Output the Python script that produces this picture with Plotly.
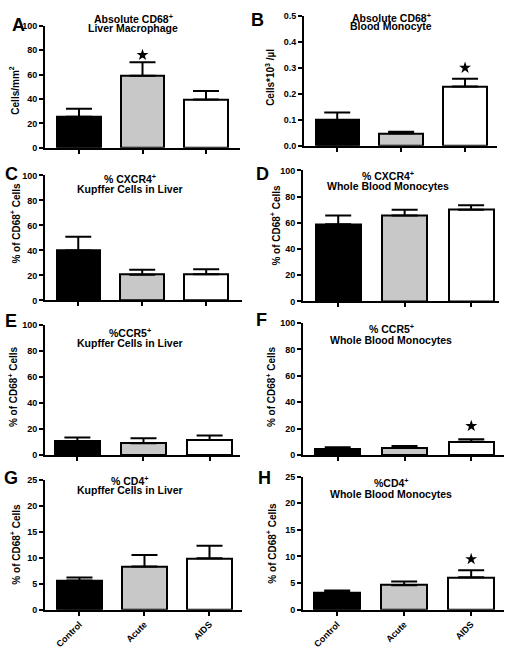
import plotly.graph_objects as go

W, H = 512, 655

categories = ["Control", "Acute", "AIDS"]

a_mean = [25.5, 59, 39.5]
a_sem = [6.5, 11, 7]
b_mean = [0.099, 0.048, 0.228]
b_sem = [0.029, 0.006, 0.03]
c_mean = [40, 20.5, 21]
c_sem = [11, 4, 4]
d_mean = [59, 65.5, 70]
d_sem = [6.5, 4.5, 3.5]
e_mean = [10.5, 9, 11.5]
e_sem = [3, 4, 3.5]
f_mean = [4.5, 5.5, 10]
f_sem = [1.3, 1.3, 2]
g_mean = [5.6, 8.3, 9.9]
g_sem = [0.6, 2.2, 2.4]
h_mean = [3.2, 4.6, 6.1]
h_sem = [0.4, 0.7, 1.3]

# significance stars: (category index, y value)
a_star = (1, 76)
b_star = (2, 0.30)
f_star = (2, 22)
h_star = (2, 9.5)

title_lines = {
    "A": ["Absolute CD68<sup>+</sup>", "Liver Macrophage"],
    "B": ["Absolute CD68<sup>+</sup>", "Blood Monocyte"],
    "C": ["% CXCR4<sup>+</sup>", "Kupffer Cells in Liver"],
    "D": ["% CXCR4<sup>+</sup>", "Whole Blood Monocytes"],
    "E": ["%CCR5<sup>+</sup>", "Kupffer Cells in Liver"],
    "F": ["% CCR5<sup>+</sup>", "Whole Blood Monocytes"],
    "G": ["% CD4<sup>+</sup>", "Kupffer Cells in Liver"],
    "H": ["%CD4<sup>+</sup>", "Whole Blood Monocytes"],
}
ytitles = {
    "A": "Cells/mm<sup>2</sup>",
    "B": "Cells*10<sup>3</sup> /µl",
}
pct_title = "% of CD68<sup>+</sup> Cells"

y_ticks_pct = [0, 20, 40, 60, 80, 100]
y_ticks_b = [0.0, 0.1, 0.2, 0.3, 0.4, 0.5]
y_ticks_g = [0, 5, 10, 15, 20, 25]

colors = ["#000000", "#c8c8c8", "#ffffff"]
FONT = "Liberation Sans, Arial, sans-serif"

# layout per panel: pixel box (x0, x1, ytop, ybottom), x range, y range, ticks,
# title line y positions, title centre x, letter pos, y title pos
panels = [
    dict(k="A", mean=a_mean, sem=a_sem, star=a_star, box=(45, 240, 21, 145), xr=[-0.535, 2.535],
         yr=[0, 100], yt=y_ticks_pct, fmt=None, tx=133, ty=(14, 23), letter=(18, 20), yl=(14, 87), xlab=False),
    dict(k="B", mean=b_mean, sem=b_sem, star=b_star, box=(304, 497, 11, 143), xr=[-0.52, 2.5],
         yr=[0, 0.5], yt=y_ticks_b, fmt=".1f", tx=391, ty=(13, 21), letter=(257, 15), yl=(270, 74), xlab=False),
    dict(k="C", mean=c_mean, sem=c_sem, star=None, box=(45, 242, 173, 300), xr=[-0.52, 2.56],
         yr=[0, 100], yt=y_ticks_pct, fmt=None, tx=130, ty=(176, 187), letter=(11, 172), yl=(15, 222), xlab=False),
    dict(k="D", mean=d_mean, sem=d_sem, star=None, box=(303, 499, 168, 301), xr=[-0.53, 2.42],
         yr=[0, 100], yt=y_ticks_pct, fmt=None, tx=388, ty=(173, 184), letter=(262, 172), yl=(275, 224), xlab=False),
    dict(k="E", mean=e_mean, sem=e_sem, star=None, box=(45, 240, 325, 457), xr=[-0.49, 2.46],
         yr=[0, 100], yt=y_ticks_pct, fmt=None, tx=130, ty=(333, 343), letter=(11, 321), yl=(13, 388), xlab=False),
    dict(k="F", mean=f_mean, sem=f_sem, star=f_star, box=(303, 504, 323, 457), xr=[-0.52, 2.49],
         yr=[0, 100], yt=y_ticks_pct, fmt=None, tx=391, ty=(329, 340), letter=(261, 320), yl=(271, 388), xlab=False),
    dict(k="G", mean=g_mean, sem=g_sem, star=None, box=(45, 242, 482, 614), xr=[-0.53, 2.5],
         yr=[0, 25], yt=y_ticks_g, fmt=None, tx=130, ty=(483, 493), letter=(11, 480), yl=(15, 548), xlab=True),
    dict(k="H", mean=h_mean, sem=h_sem, star=h_star, box=(303, 504, 479, 614), xr=[-0.51, 2.49],
         yr=[0, 25], yt=y_ticks_g, fmt=None, tx=391, ty=(485, 497), letter=(264, 480), yl=(271, 547), xlab=True),
]


def px(x):
    return x / W


def py(y):
    return 1 - y / H


fig = go.Figure()
annotations = []
layout = {}

for i, p in enumerate(panels):
    n = "" if i == 0 else str(i + 1)
    xa, ya = "x" + n, "y" + n
    x0, x1, yt, yb = p["box"]
    fig.add_trace(go.Bar(
        x=[0, 1, 2], y=p["mean"], width=0.68,
        marker=dict(color=colors, line=dict(color="black", width=2)),
        error_y=dict(type="data", symmetric=False, array=p["sem"], arrayminus=[0, 0, 0],
                     color="black", thickness=2, width=13),
        xaxis=xa, yaxis=ya, showlegend=False,
    ))
    if p["star"] is not None:
        fig.add_trace(go.Scatter(
            x=[p["star"][0]], y=[p["star"][1]], mode="markers",
            marker=dict(symbol="star", size=9, color="black"),
            xaxis=xa, yaxis=ya, showlegend=False,
        ))
    layout["xaxis" + n] = dict(
        domain=[px(x0), px(x1)], range=p["xr"], anchor=ya,
        tickmode="array", tickvals=[0, 1, 2], ticktext=categories,
        showticklabels=p["xlab"], tickangle=-45,
        tickfont=dict(family=FONT, size=9, color="black", weight="bold"),
        ticks="outside", ticklen=4, tickwidth=1.5, tickcolor="black",
        showline=True, linecolor="black", linewidth=2,
        showgrid=False, zeroline=False, fixedrange=True,
    )
    ydict = dict(
        domain=[py(yb), py(yt)], range=p["yr"], anchor=xa,
        tickmode="array", tickvals=p["yt"],
        tickfont=dict(family=FONT, size=9, color="black", weight="bold"),
        ticks="outside", ticklen=4, tickwidth=1.5, tickcolor="black",
        showline=True, linecolor="black", linewidth=2,
        showgrid=False, zeroline=False, fixedrange=True,
    )
    if p["fmt"]:
        ydict["tickformat"] = p["fmt"]
    layout["yaxis" + n] = ydict

    # panel letter
    annotations.append(dict(text="<b>%s</b>" % p["k"], x=px(p["letter"][0]), y=py(p["letter"][1]),
                            xref="paper", yref="paper", xanchor="center", yanchor="middle",
                            showarrow=False, font=dict(family=FONT, size=18, color="black")))
    # title lines
    for line, yy in zip(title_lines[p["k"]], p["ty"]):
        annotations.append(dict(text="<b>%s</b>" % line, x=px(p["tx"]), y=py(yy),
                                xref="paper", yref="paper", xanchor="center", yanchor="middle",
                                showarrow=False, font=dict(family=FONT, size=10.5, color="black")))
    # y title
    annotations.append(dict(text="<b>%s</b>" % ytitles.get(p["k"], pct_title),
                            x=px(p["yl"][0]), y=py(p["yl"][1]), textangle=-90,
                            xref="paper", yref="paper", xanchor="center", yanchor="middle",
                            showarrow=False, font=dict(family=FONT, size=10, color="black")))

fig.update_layout(
    width=W, height=H, margin=dict(l=0, r=0, t=0, b=0),
    paper_bgcolor="white", plot_bgcolor="white",
    annotations=annotations, bargap=0, **layout,
)

fig.write_html(
    "out.html",
    config={"displayModeBar": False},
    post_script="document.body.style.margin='0';document.body.style.overflow='hidden';",
)
